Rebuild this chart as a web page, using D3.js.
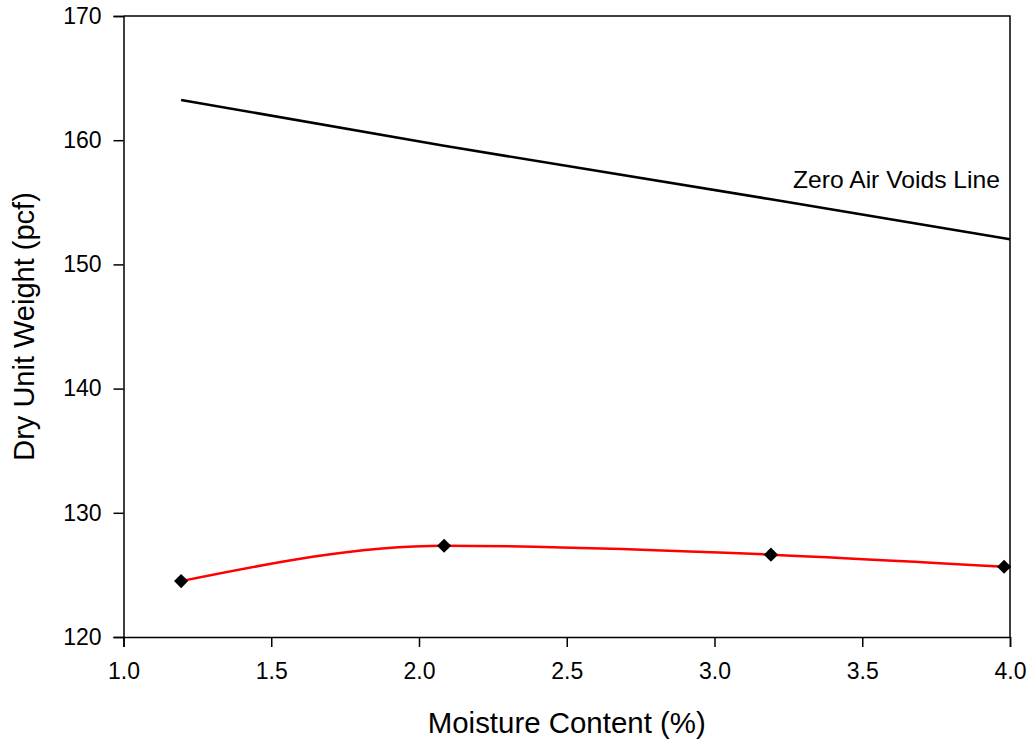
<!DOCTYPE html>
<html>
<head>
<meta charset="utf-8">
<script src="https://cdn.jsdelivr.net/npm/d3@7"></script>
<style>
  html, body { margin: 0; padding: 0; background: #fff; }
  svg { display: block; font-family: "Liberation Sans", Arial, sans-serif; }
</style>
</head>
<body>
<svg id="chart" width="1032" height="746"></svg>
<script>
// ---- data ----
const moisture = [1.195, 2.085, 3.191, 3.98];
const dryUnitWeight = [124.5, 127.35, 126.63, 125.66];
const zavMoisture = [1.195, 2.085, 3.191, 4.0];
const zavWeight = [163.24, 159.55, 155.24, 152.02];
const xTicks = [1.0, 1.5, 2.0, 2.5, 3.0, 3.5, 4.0];
const yTicks = [120, 130, 140, 150, 160, 170];
const xTitle = "Moisture Content (%)";
const yTitle = "Dry Unit Weight (pcf)";
const zavLabel = "Zero Air Voids Line";

(function () {
  const svg = d3.select("#chart");
  const mL = 123.5, mR = 1010, mT = 16, mB = 637;

  const x = d3.scaleLinear().domain([1.0, 4.0]).range([mL, mR]);
  const y = d3.scaleLinear().domain([120, 170]).range([mB, mT]);

  // frame (top and right)
  svg.append("path")
    .attr("d", `M${mL},${mT}H${mR}V${mB}`)
    .attr("fill", "none").attr("stroke", "#000").attr("stroke-width", 1.5);

  // x axis
  const xAxis = svg.append("g")
    .attr("transform", `translate(0,${mB})`)
    .call(d3.axisBottom(x).tickValues(xTicks).tickFormat(d3.format(".1f")).tickSizeOuter(0).tickSize(10).tickPadding(16));
  xAxis.select(".domain").attr("stroke-width", 1.5);
  xAxis.selectAll(".tick line").attr("stroke-width", 1.5);
  xAxis.selectAll(".tick text").attr("font-size", 23).attr("font-family", "Liberation Sans, Arial, sans-serif").attr("fill", "#000");

  // y axis
  const yAxis = svg.append("g")
    .attr("transform", `translate(${mL},0)`)
    .call(d3.axisLeft(y).tickValues(yTicks).tickSizeOuter(0).tickSize(10).tickPadding(12));
  yAxis.select(".domain").attr("stroke-width", 1.5);
  yAxis.selectAll(".tick line").attr("stroke-width", 1.5);
  yAxis.selectAll(".tick text").attr("font-size", 23).attr("font-family", "Liberation Sans, Arial, sans-serif").attr("fill", "#000");

  // zero air voids line
  svg.append("path")
    .datum(zavMoisture.map((m, i) => [m, zavWeight[i]]))
    .attr("d", d3.line().x(d => x(d[0])).y(d => y(d[1])))
    .attr("fill", "none").attr("stroke", "#000").attr("stroke-width", 2.6);

  svg.append("text")
    .attr("x", 793).attr("y", 188)
    .attr("font-size", 24)
    .attr("textLength", 207)
    .attr("lengthAdjust", "spacingAndGlyphs")
    .text(zavLabel);

  // compaction curve
  const pts = moisture.map((m, i) => [m, dryUnitWeight[i]]);
  svg.append("path")
    .datum(pts)
    .attr("d", d3.line().x(d => x(d[0])).y(d => y(d[1])).curve(d3.curveMonotoneX))
    .attr("fill", "none").attr("stroke", "#ff0000").attr("stroke-width", 2.5);

  svg.selectAll(".pt")
    .data(pts)
    .enter().append("path")
    .attr("class", "pt")
    .attr("d", d3.symbol(d3.symbolSquare, 100))
    .attr("transform", d => `translate(${x(d[0])},${y(d[1])}) rotate(45)`)
    .attr("fill", "#000");

  // axis titles
  svg.append("text")
    .attr("x", (mL + mR) / 2).attr("y", 733)
    .attr("text-anchor", "middle")
    .attr("font-size", 29)
    .attr("textLength", 278)
    .attr("lengthAdjust", "spacingAndGlyphs")
    .text(xTitle);

  svg.append("text")
    .attr("transform", `translate(34,${(mT + mB) / 2}) rotate(-90)`)
    .attr("text-anchor", "middle")
    .attr("font-size", 29)
    .text(yTitle);
})();
</script>
</body>
</html>
